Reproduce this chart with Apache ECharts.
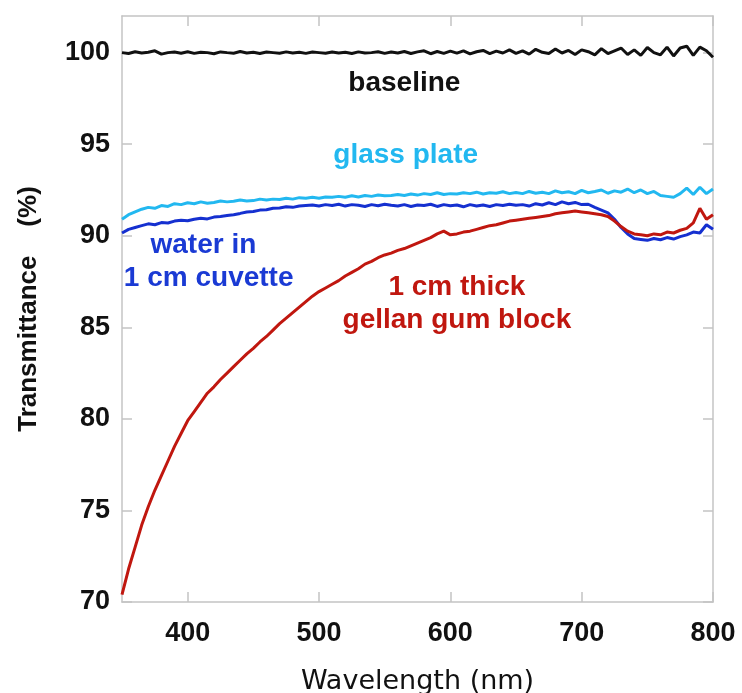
<!DOCTYPE html>
<html>
<head>
<meta charset="utf-8">
<script src="https://cdn.jsdelivr.net/npm/echarts@6/dist/echarts.min.js"></script>
<style>
  html, body { margin: 0; padding: 0; background: #fff; }
  #chart { width: 742px; height: 693px; }
</style>
</head>
<body>
<div id="chart"></div>
<script>
// sample grid, 350-800 nm every 5 nm
const wavelength = Array.from({ length: 91 }, (_, i) => 350 + i * 5);

const baseline = [
  100.0, 99.95, 100.05, 99.98, 100.02, 100.1, 99.92, 100.0, 100.03, 99.97,
  100.05, 99.96, 100.02, 100.0, 99.94, 100.04, 100.0, 99.97, 100.06, 99.98,
  100.02, 99.95, 100.03, 100.0, 99.97, 100.04, 99.98, 100.02, 99.96, 100.03, 100.0,
  99.97, 100.03, 99.98, 100.02, 99.95, 100.04, 99.98, 100.0, 100.05, 99.96,
  100.03, 99.98, 100.06, 99.95, 100.04, 100.1, 99.94, 100.06, 99.96, 100.08,
  99.97, 100.1, 99.93, 100.05, 100.12, 99.95, 100.08, 99.98, 100.15, 99.96,
  100.1, 99.92, 100.18, 100.02, 99.95, 100.2, 99.98, 100.12, 99.9, 100.15,
  100.05, 99.88, 100.22, 99.95, 100.1, 100.25, 99.9, 100.15, 99.85, 100.28,
  100.0, 99.88, 100.3, 99.82, 100.25, 100.35, 99.85, 100.3, 100.1, 99.75
];

const glassPlate = [
  90.9, 91.15, 91.3, 91.45, 91.55, 91.5, 91.65, 91.6, 91.75, 91.7,
  91.8, 91.75, 91.85, 91.78, 91.82, 91.9, 91.85, 91.88, 91.95, 91.9,
  91.92, 92.0, 91.95, 92.0, 91.98, 92.05, 92.0, 92.08, 92.05, 92.1, 92.05,
  92.12, 92.1, 92.15, 92.1, 92.18, 92.12, 92.2, 92.15, 92.22, 92.18,
  92.2, 92.25, 92.2, 92.28, 92.22, 92.3, 92.25, 92.35, 92.25, 92.3,
  92.28, 92.35, 92.3, 92.38, 92.28, 92.35, 92.32, 92.4, 92.3, 92.36,
  92.3, 92.42, 92.32, 92.38, 92.3, 92.45, 92.35, 92.4, 92.3, 92.48,
  92.35, 92.42, 92.5, 92.32, 92.45, 92.38, 92.55, 92.35, 92.5, 92.3,
  92.42, 92.2, 92.15, 92.1, 92.3, 92.6, 92.25, 92.65, 92.3, 92.55
];

const waterCuvette = [
  90.15, 90.35, 90.45, 90.55, 90.65, 90.6, 90.72, 90.7, 90.8, 90.85,
  90.82, 90.9, 90.95, 90.92, 91.02, 91.05, 91.1, 91.15, 91.22, 91.3,
  91.32, 91.4, 91.42, 91.5, 91.52, 91.58, 91.55, 91.62, 91.65, 91.68, 91.62,
  91.7, 91.65, 91.72, 91.62, 91.7, 91.66, 91.6, 91.7, 91.64, 91.72,
  91.66, 91.62, 91.7, 91.6, 91.68, 91.65, 91.72, 91.6, 91.7, 91.64,
  91.68, 91.58, 91.7, 91.62, 91.68, 91.6, 91.7, 91.65, 91.72, 91.66,
  91.7, 91.62, 91.75, 91.68, 91.8, 91.7, 91.85, 91.75, 91.82, 91.7,
  91.72, 91.55, 91.4, 91.25, 90.9, 90.45, 90.1, 89.85, 89.8, 89.75,
  89.85, 89.78, 89.9, 89.82, 89.95, 90.05, 90.2, 90.15, 90.6, 90.35
];

const gellanBlock = [
  70.4, 71.8, 73.0, 74.2, 75.2, 76.1, 76.9, 77.7, 78.5, 79.2,
  79.9, 80.4, 80.9, 81.4, 81.75, 82.15, 82.5, 82.85, 83.2, 83.55,
  83.85, 84.2, 84.5, 84.85, 85.2, 85.5, 85.8, 86.1, 86.4, 86.7, 86.95,
  87.15, 87.35, 87.55, 87.8, 88.0, 88.2, 88.45, 88.6, 88.8, 88.95,
  89.05, 89.2, 89.3, 89.45, 89.6, 89.75, 89.9, 90.1, 90.25, 90.05,
  90.1, 90.2, 90.25, 90.35, 90.45, 90.55, 90.6, 90.7, 90.8, 90.85,
  90.9, 90.95, 91.0, 91.05, 91.1, 91.2, 91.25, 91.3, 91.35, 91.3,
  91.25, 91.2, 91.15, 91.05, 90.8, 90.5, 90.25, 90.1, 90.05, 90.0,
  90.1, 90.05, 90.2, 90.15, 90.3, 90.4, 90.7, 91.5, 90.9, 91.15
];

const xTicks = [400, 500, 600, 700, 800];
const yTicks = [70, 75, 80, 85, 90, 95, 100];

// text labels on the plot, [text, wavelength, transmittance]
const notes = [
  ['baseline', 565, 98.3],
  ['glass plate', 566, 94.4],
  ['water in', 412, 89.5],
  ['1 cm cuvette', 416, 87.7],
  ['1 cm thick', 605, 87.2],
  ['gellan gum block', 605, 85.4]
];

const colors = {
  baseline: '#111111',
  glass: '#22b8f0',
  water: '#1530d0',
  gellan: '#c0170f'
};
const noteColors = [colors.baseline, colors.glass, '#1a3ad4', '#1a3ad4', colors.gellan, colors.gellan];

const axisGray = '#c4c4c4';
const tickFont = { fontFamily: 'Liberation Sans', fontWeight: 'bold', fontSize: 27, color: '#111' };

const pairs = arr => wavelength.map((w, i) => [w, arr[i]]);

const lineSeries = (name, arr, color) => ({
  name,
  type: 'line',
  data: pairs(arr),
  showSymbol: false,
  lineStyle: { color, width: 3 },
  itemStyle: { color },
  silent: true
});

const chart = echarts.init(document.getElementById('chart'));

chart.setOption({
  animation: false,
  backgroundColor: '#fff',
  grid: { left: 122, top: 16, right: 29, bottom: 91, containLabel: false, outerBoundsMode: 'none' },
  xAxis: [
    {
      type: 'value',
      min: 350,
      max: 800,
      name: 'Wavelength (nm)',
      nameLocation: 'middle',
      nameGap: 66,
      nameTextStyle: { fontFamily: 'DejaVu Sans', fontSize: 27, color: '#111' },
      axisLine: { show: true, lineStyle: { color: axisGray, width: 1.5 } },
      axisTick: { show: true, inside: true, length: 10, customValues: xTicks, lineStyle: { color: axisGray, width: 1.5 } },
      axisLabel: { customValues: xTicks, margin: 18, ...tickFont },
      splitLine: { show: false }
    },
    {
      type: 'value',
      position: 'top',
      min: 350,
      max: 800,
      axisLine: { show: true, lineStyle: { color: axisGray, width: 1.5 } },
      axisTick: { show: true, inside: true, length: 10, customValues: xTicks, lineStyle: { color: axisGray, width: 1.5 } },
      axisLabel: { show: false },
      splitLine: { show: false }
    }
  ],
  yAxis: [
    {
      type: 'value',
      min: 70,
      max: 102,
      name: 'Transmittance    (%)',
      nameLocation: 'middle',
      nameGap: 80,
      nameTextStyle: { fontFamily: 'Liberation Sans', fontWeight: 'bold', fontSize: 26, color: '#111' },
      axisLine: { show: true, lineStyle: { color: axisGray, width: 1.5 } },
      axisTick: { show: true, inside: true, length: 10, customValues: yTicks, lineStyle: { color: axisGray, width: 1.5 } },
      axisLabel: { customValues: yTicks, margin: 12, ...tickFont },
      splitLine: { show: false }
    },
    {
      type: 'value',
      position: 'right',
      min: 70,
      max: 102,
      axisLine: { show: true, lineStyle: { color: axisGray, width: 1.5 } },
      axisTick: { show: true, inside: true, length: 10, customValues: yTicks, lineStyle: { color: axisGray, width: 1.5 } },
      axisLabel: { show: false },
      splitLine: { show: false }
    }
  ],
  series: [
    lineSeries('baseline', baseline, colors.baseline),
    lineSeries('glass plate', glassPlate, colors.glass),
    lineSeries('water in 1 cm cuvette', waterCuvette, colors.water),
    lineSeries('1 cm thick gellan gum block', gellanBlock, colors.gellan)
  ]
});

chart.setOption({
  graphic: notes.map(([text, x, y], i) => {
    const [px, py] = chart.convertToPixel({ gridIndex: 0 }, [x, y]);
    return {
      type: 'text',
      x: px,
      y: py,
      style: {
        text,
        fill: noteColors[i],
        font: 'bold 28px "Liberation Sans"',
        textAlign: 'center',
        textVerticalAlign: 'middle'
      }
    };
  })
});
</script>
</body>
</html>
